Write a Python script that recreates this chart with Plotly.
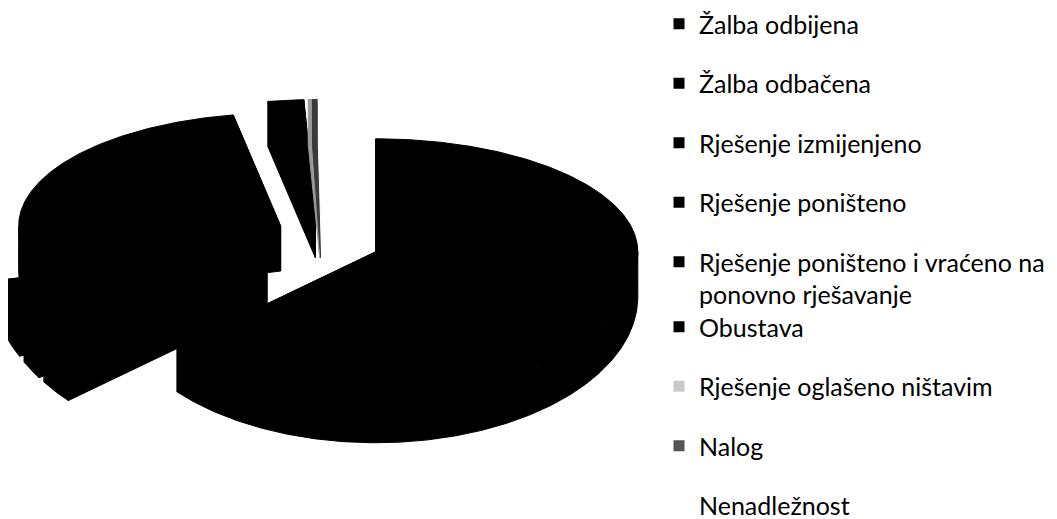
import numpy as np
import plotly.graph_objects as go

# ---- data ----
categories = [
    "Žalba odbijena",
    "Žalba odbačena",
    "Rješenje izmijenjeno",
    "Rješenje poništeno",
    "Rješenje poništeno i vraćeno na<br>ponovno rješavanje",
    "Obustava",
    "Rješenje oglašeno ništavim",
    "Nalog",
    "Nenadležnost",
]
values = [63.7, 2.5, 1.9, 3.6, 25.4, 2.2, 0.2, 0.3, 0.2]

# ---- style ----
slice_colors = ["#000000", "#000000", "#000000", "#000000", "#000000",
                "#000000", "#9a9a9a", "#3a3a3a", "#ffffff"]
legend_colors = ["#000000", "#000000", "#000000", "#000000", "#000000",
                 "#000000", "#c8c8c8", "#555555", "#ffffff"]
explode = [0.226, 0.26, 0.26, 0.26, 0.19, 0.226, 0.226, 0.226, 0.226]

W, H = 1057, 519
OFF = 8                    # page offset of the figure inside the browser window
CX, CY = 322, 238          # pie centre (window pixel units)
RX = 262                   # horizontal semi-axis
RY_BACK, RY_FRONT = 113, 146   # vertical semi-axes (perspective)
DEPTH = 45

def proj(theta_deg, r=1.0):
    t = np.radians(theta_deg)
    ux, uy = np.sin(t), -np.cos(t)
    ry = np.where(uy > 0, RY_FRONT, RY_BACK)
    return ux * RX * r, uy * ry * r

fig = go.Figure()

total = float(sum(values))
start = 0.0
for i, (name, v) in enumerate(zip(categories, values)):
    span = 360.0 * v / total
    t0, t1 = start, start + span
    start = t1
    mid = (t0 + t1) / 2
    ox, oy = proj(mid, explode[i])
    ax, ay = CX + float(ox), CY + float(oy)
    col = slice_colors[i]
    polys = []
    # top surface
    th = np.linspace(t0, t1, max(4, int(span * 2)))
    px, py = proj(th)
    polys.append((np.r_[ax, ax + px, ax], np.r_[ay, ay + py, ay]))
    # visible (front) side band
    f0, f1 = max(t0, 90.0), min(t1, 270.0)
    if f1 > f0:
        thf = np.linspace(f0, f1, max(4, int((f1 - f0) * 2)))
        fx, fy = proj(thf)
        bx = np.r_[ax + fx, (ax + fx)[::-1]]
        by = np.r_[ay + fy, (ay + fy + DEPTH)[::-1]]
        polys.append((np.r_[bx, bx[0]], np.r_[by, by[0]]))
    # radial faces
    for tt in (t0, t1):
        rx, ry = proj(tt)
        rx, ry = float(rx), float(ry)
        polys.append((
            [ax, ax + rx, ax + rx, ax, ax],
            [ay, ay + ry, ay + ry + DEPTH, ay + DEPTH, ay],
        ))
    for xs, ys in polys:
        fig.add_trace(go.Scatter(
            x=list(xs), y=list(ys), mode="lines", fill="toself",
            fillcolor=col, line=dict(color=col, width=1),
            hoverinfo="skip", showlegend=False,
        ))

# legend entries
for i, name in enumerate(categories):
    fig.add_trace(go.Scatter(
        x=[None], y=[None], mode="markers", name=name,
        marker=dict(symbol="square", size=11, color=legend_colors[i],
                    line=dict(width=0)),
        legendgroup=f"g{i}", legend="legend" if i < 5 else "legend2",
    ))

leg_font = dict(family="Lato, 'Open Sans', sans-serif", size=25, color="#000000")
leg_x = (659 - OFF) / W
fig.update_layout(
    width=W, height=H,
    margin=dict(l=0, r=0, t=0, b=0, autoexpand=False),
    paper_bgcolor="white", plot_bgcolor="white",
    xaxis=dict(range=[OFF, OFF + W], visible=False, fixedrange=True),
    yaxis=dict(range=[OFF + H, OFF], visible=False, fixedrange=True),
    showlegend=True,
    legend=dict(x=leg_x, y=1 - (1 - OFF) / H, xanchor="left", yanchor="top",
                font=leg_font, tracegroupgap=24, valign="top", maxheight=600,
                itemsizing="trace", bgcolor="rgba(0,0,0,0)"),
    legend2=dict(x=leg_x, y=1 - (304 - OFF) / H, xanchor="left", yanchor="top",
                 font=leg_font, tracegroupgap=24, valign="top", maxheight=600,
                 itemsizing="trace", bgcolor="rgba(0,0,0,0)"),
)

fig.write_html("out.html")
